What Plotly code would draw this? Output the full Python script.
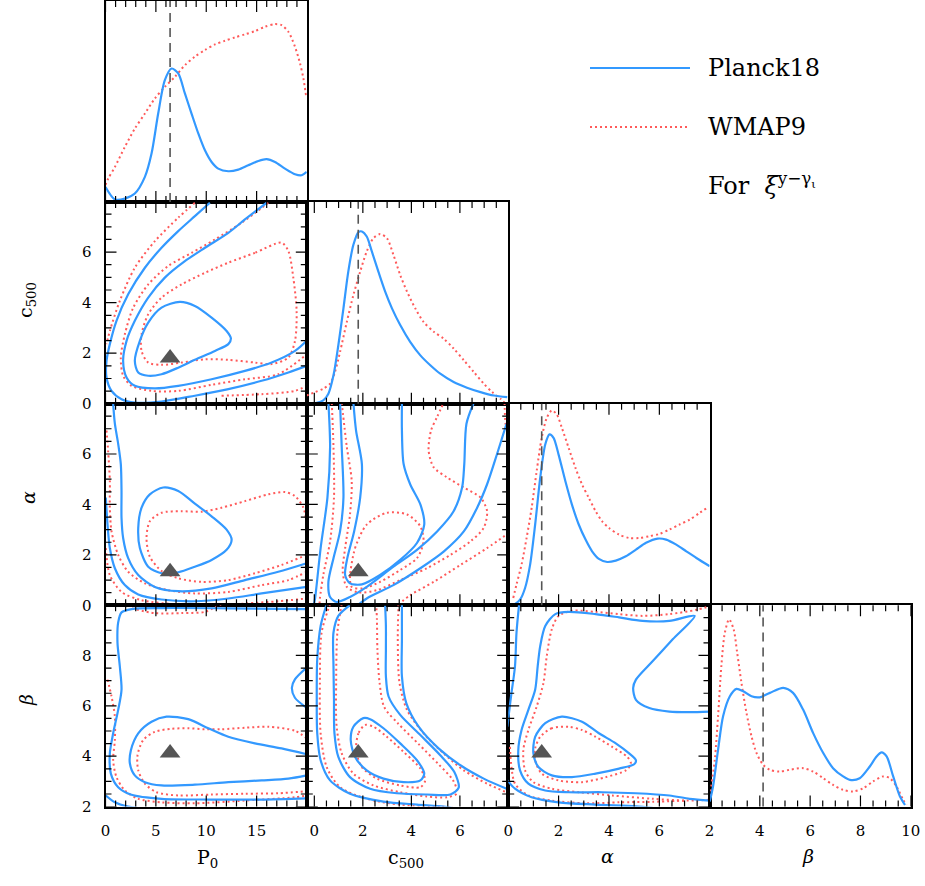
import math
import plotly.graph_objects as go

W, H = 925, 886
BLUE = "#3399ff"
RED = "#ff5a5a"
GREY = "#555555"
SERIF = "DejaVu Serif"

# ---------------------------------------------------------------- parameters
truth = [6.41, 1.81, 1.33, 4.13]          # P0, c500, alpha, beta

# ---------------------------------------------------------------- 1D marginals
p0_planck_x = [0, 0.93, 1.92, 2.91, 3.91, 4.57, 5.23, 5.89, 6.56, 7.22, 7.88, 8.54, 9.21, 9.87, 10.53, 11.19,
               12.19, 13.18, 14.17, 15.17, 15.99, 16.82, 17.81, 18.81, 19.47, 19.97]
p0_planck_y = [0.075, 0.013, 0.017, 0.042, 0.125, 0.241, 0.44, 0.606, 0.664, 0.64, 0.54, 0.44, 0.341, 0.257,
               0.199, 0.166, 0.153, 0.161, 0.183, 0.204, 0.213, 0.199, 0.166, 0.138, 0.133, 0.15]
p0_wmap_x = [0, 0.26, 0.93, 1.92, 2.91, 3.91, 4.9, 5.89, 6.89, 7.88, 8.87, 9.87, 10.86, 11.85, 12.85, 13.84,
             14.83, 15.83, 16.82, 17.48, 18.15, 18.81, 19.31, 19.64, 19.9]
p0_wmap_y = [0.085, 0.116, 0.174, 0.274, 0.365, 0.44, 0.515, 0.573, 0.623, 0.681, 0.723, 0.756, 0.784, 0.802,
             0.819, 0.834, 0.85, 0.872, 0.885, 0.88, 0.847, 0.772, 0.689, 0.615, 0.532]

c5_planck_x = [-0.32, 0.1, 0.37, 0.58, 0.79, 0.99, 1.2, 1.4, 1.61, 1.82, 1.96, 2.16, 2.37, 2.64, 2.92, 3.2, 3.54,
               3.95, 4.37, 4.78, 5.19, 5.74, 6.29, 6.85, 7.4, 7.95]
c5_planck_y = [0.003, 0.005, 0.017, 0.05, 0.141, 0.29, 0.473, 0.655, 0.788, 0.851, 0.854, 0.829, 0.755, 0.655,
               0.556, 0.473, 0.39, 0.307, 0.24, 0.191, 0.149, 0.108, 0.08, 0.058, 0.041, 0.033]
c5_wmap_x = [-0.32, 0.03, 0.37, 0.65, 0.85, 1.06, 1.34, 1.61, 1.89, 2.16, 2.44, 2.71, 2.99, 3.26, 3.54, 3.82,
             4.16, 4.5, 4.92, 5.33, 5.74, 6.16, 6.57, 6.98, 7.33, 7.67, 7.84]
c5_wmap_y = [0.041, 0.058, 0.075, 0.1, 0.158, 0.257, 0.406, 0.539, 0.655, 0.755, 0.821, 0.841, 0.821, 0.738,
             0.638, 0.556, 0.473, 0.406, 0.357, 0.323, 0.274, 0.216, 0.158, 0.1, 0.058, 0.025, 0.005]

al_planck_x = [0, 0.27, 0.47, 0.67, 0.87, 1.07, 1.27, 1.47, 1.64, 1.8, 2.0, 2.27, 2.53, 2.8, 3.07, 3.33, 3.6,
               3.93, 4.27, 4.67, 5.07, 5.47, 5.93, 6.27, 6.67, 7.07, 7.47, 8.0]
al_planck_y = [0.003, 0.007, 0.028, 0.086, 0.202, 0.401, 0.632, 0.798, 0.848, 0.831, 0.748, 0.616, 0.5, 0.401,
               0.326, 0.268, 0.23, 0.215, 0.222, 0.243, 0.276, 0.31, 0.331, 0.326, 0.301, 0.268, 0.235, 0.194]
al_wmap_x = [0.2, 0.33, 0.53, 0.73, 0.93, 1.13, 1.33, 1.53, 1.73, 1.93, 2.13, 2.4, 2.67, 2.93, 3.2, 3.47, 3.73,
             4.0, 4.4, 4.8, 5.2, 5.6, 6.0, 6.4, 6.8, 7.2, 7.6, 7.89]
al_wmap_y = [0.036, 0.103, 0.202, 0.334, 0.483, 0.666, 0.831, 0.93, 0.967, 0.947, 0.881, 0.781, 0.682, 0.6,
             0.533, 0.467, 0.417, 0.384, 0.351, 0.334, 0.334, 0.343, 0.354, 0.376, 0.401, 0.425, 0.459, 0.483]

be_planck_x = [2.01, 2.14, 2.34, 2.54, 2.81, 3.07, 3.34, 3.67, 4.0, 4.4, 4.93, 5.32, 5.72, 6.12, 6.52, 6.91, 7.31,
               7.58, 7.97, 8.37, 8.64, 8.84, 9.04, 9.3, 9.57, 9.77]
be_planck_y = [0.025, 0.1, 0.282, 0.449, 0.548, 0.585, 0.573, 0.548, 0.543, 0.565, 0.59, 0.565, 0.482, 0.365,
               0.266, 0.191, 0.15, 0.133, 0.141, 0.199, 0.249, 0.269, 0.249, 0.15, 0.05, 0.008]
be_wmap_x = [2.01, 2.21, 2.34, 2.47, 2.61, 2.78, 2.96, 3.1, 3.27, 3.47, 3.67, 3.87, 4.13, 4.4, 4.79, 5.19, 5.72,
             6.12, 6.52, 6.91, 7.31, 7.71, 8.11, 8.5, 8.9, 9.17, 9.43, 9.7, 9.83]
be_wmap_y = [0.05, 0.233, 0.449, 0.698, 0.864, 0.93, 0.88, 0.764, 0.615, 0.465, 0.349, 0.266, 0.208, 0.183,
             0.174, 0.183, 0.191, 0.174, 0.141, 0.108, 0.083, 0.075, 0.091, 0.125, 0.15, 0.141, 0.1, 0.033, 0.008]

# ---------------------------------------------------------------- 2D contours
# c500 vs P0
c5p0_planck_1 = [(2.91, 1.70), (3.41, 2.49), (4.24, 3.21), (5.56, 3.80), (7.38, 4.03), (8.87, 3.87), (10.53, 3.41),
                 (12.02, 2.88), (12.45, 2.58), (12.19, 2.36), (10.86, 2.09), (8.87, 1.74), (7.22, 1.43),
                 (5.56, 1.17), (4.24, 1.11), (3.25, 1.24), (2.91, 1.70)]
c5p0_planck_2 = [(15.99, 7.95), (13.84, 7.29), (12.19, 6.76), (9.87, 6.17), (7.88, 5.64), (5.89, 4.99), (4.24, 4.2),
                 (2.91, 3.28), (2.09, 2.49), (1.75, 1.7), (2.09, 1.04), (2.91, 0.71), (4.9, 0.61), (7.22, 0.71),
                 (10.53, 0.97), (13.84, 1.3), (16.49, 1.63), (18.81, 2.09), (19.97, 2.49)]
c5p0_planck_3 = [(10.36, 7.95), (8.87, 7.42), (7.22, 6.83), (5.56, 6.17), (3.91, 5.38), (2.25, 4.33), (1.09, 3.28),
                 (0.43, 2.36), (0.1, 1.7), (0.1, 1.04), (0.6, 0.51), (1.59, 0.18), (2.91, 0.05), (5.56, 0.09),
                 (8.87, 0.32), (12.19, 0.58), (15.5, 0.91), (18.15, 1.24), (19.97, 1.5)]
c5p0_wmap_1 = [(17.48, 6.37), (14.83, 5.97), (12.19, 5.58), (9.87, 5.18), (7.55, 4.72), (5.56, 4.2), (4.24, 3.54),
               (3.58, 2.75), (3.58, 2.09), (4.24, 1.63), (5.56, 1.54), (7.55, 1.63), (9.87, 1.76), (12.19, 1.74),
               (14.83, 1.63), (16.49, 1.57), (18.15, 1.83), (18.81, 2.49), (18.97, 3.67), (18.64, 4.99),
               (18.15, 6.04), (17.48, 6.37)]
c5p0_wmap_2 = [(16.16, 7.95), (13.51, 7.16), (10.86, 6.5), (8.54, 5.97), (6.23, 5.45), (4.24, 4.72), (2.75, 3.8),
               (1.92, 2.75), (1.52, 1.83), (1.75, 1.11), (2.58, 0.71), (4.57, 0.51), (7.22, 0.51), (10.53, 0.75),
               (13.84, 0.97), (17.15, 1.17), (19.97, 1.96)]
c5p0_wmap_3 = [(8.87, 7.95), (7.22, 7.36), (4.9, 6.43), (2.91, 5.38), (1.42, 4.07), (0.43, 2.88), (0.1, 2.36)]
c5p0_wmap_3b = [(11.52, 0.32), (15.5, 0.38), (18.81, 0.51), (19.97, 0.71)]

# alpha vs P0
alp0_planck_1 = [(5.73, 4.67), (7.22, 4.53), (8.87, 4.03), (10.53, 3.53), (12.02, 3.0), (12.52, 2.6), (12.02, 2.2),
                 (10.53, 1.8), (8.87, 1.53), (7.22, 1.31), (5.56, 1.27), (4.24, 1.53), (3.41, 2.27), (3.25, 3.07),
                 (3.58, 3.87), (4.4, 4.4), (5.73, 4.67)]
alp0_planck_2 = [(0.76, 8.0), (0.93, 7.2), (1.26, 6.4), (1.52, 5.6), (1.59, 4.53), (1.59, 3.47), (1.75, 2.67),
                 (2.25, 1.87), (3.25, 1.2), (4.9, 0.73), (7.22, 0.56), (10.53, 0.67), (13.84, 1.0), (17.15, 1.33),
                 (19.97, 1.67)]
alp0_planck_3 = [(0.03, 4.27), (0.2, 3.2), (0.43, 2.27), (0.93, 1.47), (1.92, 0.8), (3.25, 0.43), (5.56, 0.23),
                 (8.87, 0.16), (12.19, 0.27), (15.5, 0.47), (19.97, 0.73)]
alp0_wmap_1 = [(19.97, 2.0), (17.48, 1.6), (14.83, 1.27), (12.19, 1.0), (9.54, 0.93), (7.22, 1.07), (5.56, 1.36),
               (4.4, 1.93), (4.07, 2.67), (4.4, 3.33), (5.56, 3.67), (7.55, 3.73), (9.54, 3.71), (11.52, 3.87),
               (13.84, 4.13), (16.16, 4.4), (17.81, 4.49), (18.81, 4.33), (19.64, 3.87), (19.97, 3.2)]
alp0_wmap_2 = [(0.1, 6.93), (0.26, 6.13), (0.43, 4.93), (0.43, 3.87), (0.6, 2.93), (1.26, 2.0), (2.25, 1.33),
               (3.91, 0.87), (6.23, 0.6), (8.87, 0.47), (12.19, 0.53), (15.5, 0.8), (18.15, 1.0), (19.97, 1.33)]
alp0_wmap_3 = [(0.03, 2.27), (0.43, 1.2), (1.59, 0.53), (3.58, 0.2), (7.22, 0.03), (10.53, -0.03), (13.84, 0.07),
               (17.15, 0.16), (19.97, 0.27)]

# beta vs P0
bep0_planck_1 = [(19.97, 4.08), (17.48, 4.31), (14.83, 4.51), (12.19, 4.77), (10.2, 5.11), (8.21, 5.47),
                 (6.06, 5.57), (4.57, 5.37), (3.25, 4.91), (2.52, 4.24), (2.42, 3.71), (2.91, 3.24), (3.91, 2.97),
                 (5.56, 2.84), (8.87, 2.87), (12.19, 2.97), (15.5, 3.04), (18.15, 3.11), (19.97, 3.24)]
bep0_planck_2 = [(19.97, 9.84), (12.19, 9.87), (5.56, 9.88), (2.58, 9.84), (1.59, 9.71), (1.26, 9.31),
                 (1.19, 8.51), (1.42, 7.57), (1.59, 6.64), (1.26, 5.84), (0.76, 4.91), (0.43, 4.11), (0.53, 3.31),
                 (1.26, 2.77), (2.58, 2.47), (5.56, 2.31), (10.53, 2.28), (15.5, 2.28), (19.97, 2.33)]
bep0_planck_2b = [(19.97, 7.52), (18.8, 7.05), (18.5, 6.72), (18.8, 6.32), (19.97, 5.92)]
bep0_planck_3 = [(0.03, 2.44), (0.93, 2.17), (2.25, 2.0), (3.91, 1.91)]
bep0_wmap_1 = [(19.97, 4.71), (18.81, 5.01), (16.16, 5.17), (13.84, 5.13), (11.52, 5.07), (9.87, 5.07),
               (8.21, 5.11), (6.56, 5.09), (4.9, 4.97), (3.74, 4.64), (3.18, 4.04), (3.25, 3.44), (3.91, 2.91),
               (5.07, 2.57), (7.22, 2.44), (10.53, 2.48), (13.84, 2.51), (17.15, 2.53), (19.97, 2.61)]
bep0_wmap_2 = [(0.2, 7.04), (0.6, 6.37), (0.93, 5.57), (0.93, 4.64), (0.76, 3.84), (1.09, 3.17), (1.92, 2.64),
               (3.25, 2.31), (5.56, 2.17), (8.87, 2.13), (13.84, 2.24), (18.81, 2.37), (19.97, 2.44)]
bep0_wmap_2b = [(11.52, 10.04), (10.86, 9.91), (9.87, 9.73), (7.55, 9.68), (4.9, 9.68), (2.58, 9.87)]

# alpha vs c500
alc5_planck_1 = [(1.61, 8.03), (1.72, 6.93), (1.96, 5.6), (1.89, 4.27), (1.64, 2.93), (1.36, 1.87), (1.27, 1.2),
                 (1.47, 0.87), (1.96, 0.83), (2.71, 1.2), (3.54, 1.8), (4.23, 2.47), (4.53, 3.2), (4.37, 4.0),
                 (3.95, 4.8), (3.68, 5.6), (3.61, 6.93), (3.61, 8.03)]
alc5_planck_2 = [(1.06, 8.03), (1.13, 6.27), (1.2, 4.27), (1.06, 2.93), (0.79, 1.87), (0.58, 0.93), (0.65, 0.33),
                 (0.92, 0.13), (1.47, 0.33), (2.16, 0.73), (3.26, 1.53), (4.23, 2.2), (5.06, 2.93), (5.74, 3.73),
                 (6.09, 4.67), (6.18, 5.6), (6.27, 7.2), (6.57, 8.03)]
alc5_planck_3 = [(0.58, 8.03), (0.65, 6.27), (0.54, 4.27), (0.26, 2.27), (0.03, 0.27), (-0.04, -0.07)]
alc5_planck_3b = [(7.92, 7.2), (7.53, 6.0), (7.12, 4.8), (6.71, 3.87), (6.16, 2.93), (5.33, 2.13), (4.37, 1.47),
                  (3.26, 0.8), (2.16, 0.27), (1.75, -0.03)]
alc5_wmap_1 = [(1.47, 1.07), (1.68, 2.27), (2.16, 3.2), (2.99, 3.67), (3.82, 3.6), (4.37, 3.13), (4.5, 2.53),
               (4.23, 1.87), (3.54, 1.4), (2.71, 0.93), (2.02, 0.67), (1.54, 0.73), (1.47, 1.07)]
alc5_wmap_2 = [(1.13, 8.03), (1.34, 6.27), (1.54, 4.93), (1.47, 3.6), (1.27, 2.27), (1.17, 1.33), (1.34, 0.73),
               (1.82, 0.51), (2.58, 0.6), (3.54, 1.0), (4.64, 1.47), (5.61, 2.0), (6.43, 2.53), (6.98, 3.07),
               (7.12, 3.73), (6.85, 4.27), (6.16, 4.67), (5.47, 5.07), (4.92, 5.47), (4.71, 6.13), (4.81, 6.93),
               (5.06, 7.47), (5.33, 8.03)]
alc5_wmap_3 = [(0.72, 8.03), (0.79, 6.27), (0.81, 4.27), (0.65, 2.53), (0.37, 1.2), (0.23, 0.27), (0.21, -0.07)]
alc5_wmap_3b = [(7.84, 8.03), (7.88, 7.2), (8.02, 6.4)]
alc5_wmap_3c = [(8.02, 2.87), (7.12, 2.27), (6.02, 1.6), (4.92, 0.93), (3.95, 0.4), (3.4, -0.03)]

# beta vs c500
bec5_planck_1 = [(2.02, 5.51), (1.61, 5.17), (1.5, 4.64), (1.68, 3.97), (2.16, 3.44), (2.85, 3.11), (3.68, 2.97),
                 (4.37, 3.04), (4.53, 3.31), (4.23, 3.84), (3.54, 4.51), (2.85, 5.11), (2.3, 5.47), (2.02, 5.51)]
bec5_planck_2 = [(1.47, 10.0), (0.99, 9.57), (0.79, 8.91), (0.79, 7.57), (0.81, 6.24), (0.83, 4.91), (0.99, 3.97),
                 (1.47, 3.17), (2.3, 2.71), (3.4, 2.53), (4.64, 2.48), (5.61, 2.48), (5.95, 2.75), (5.77, 3.37),
                 (5.19, 4.04), (4.37, 4.84), (3.54, 5.64), (3.06, 6.37), (2.95, 7.17), (2.95, 8.24), (2.95, 9.17),
                 (2.92, 9.97)]
bec5_planck_3 = [(0.51, 10.04), (0.26, 9.17), (0.12, 7.84), (0.1, 6.24), (0.12, 4.91), (0.26, 3.84), (0.65, 3.04),
                 (1.47, 2.51), (2.85, 2.2), (4.23, 2.08), (5.33, 2.0), (5.88, 1.91)]
bec5_planck_3b = [(3.61, 10.04), (3.61, 8.64), (3.61, 7.17), (3.79, 6.11), (4.3, 5.17), (5.12, 4.31), (6.02, 3.64),
                  (6.98, 3.11), (8.02, 2.67)]
bec5_wmap_1 = [(2.09, 5.24), (1.82, 4.91), (1.72, 4.24), (1.96, 3.57), (2.58, 3.11), (3.54, 2.84), (4.37, 2.77),
               (4.57, 3.04), (4.37, 3.51), (3.68, 4.17), (2.99, 4.77), (2.44, 5.17), (2.09, 5.24)]
bec5_wmap_2 = [(1.13, 10.04), (0.95, 8.91), (0.9, 6.91), (0.92, 5.17), (1.13, 4.11), (1.61, 3.31), (2.44, 2.84),
               (3.54, 2.57), (4.64, 2.4), (5.47, 2.37), (5.88, 2.53), (5.72, 3.04), (5.12, 3.68), (4.3, 4.48),
               (3.47, 5.28), (2.88, 5.95), (2.69, 6.91), (2.6, 8.24), (2.58, 9.44), (2.55, 10.04)]
bec5_wmap_3 = [(0.65, 10.04), (0.3, 8.91), (0.23, 6.91), (0.26, 4.91), (0.51, 3.57), (1.06, 2.77), (2.16, 2.31),
               (3.54, 2.08), (5.19, 2.0), (6.02, 1.91)]
bec5_wmap_3b = [(3.47, 10.04), (3.44, 8.64), (3.51, 6.91), (3.82, 5.84), (4.5, 4.91), (5.33, 4.11), (6.16, 3.44),
                (7.12, 2.91), (8.02, 2.53)]

# beta vs alpha
beal_planck_1 = [(2.13, 5.57), (1.47, 5.31), (1.07, 4.77), (1.0, 4.11), (1.2, 3.57), (1.73, 3.24), (2.53, 3.17),
                 (3.47, 3.31), (4.4, 3.51), (5.0, 3.68), (5.07, 3.84), (4.8, 4.11), (4.27, 4.51), (3.6, 4.91),
                 (2.93, 5.37), (2.13, 5.57)]
beal_planck_2 = [(8.0, 5.77), (7.2, 5.75), (6.4, 5.77), (5.6, 5.91), (5.07, 6.24), (4.96, 6.71), (5.07, 7.04),
                 (5.73, 7.77), (6.53, 8.64), (7.4, 9.57), (6.4, 9.37), (5.33, 9.37), (4.4, 9.51), (3.47, 9.64),
                 (2.4, 9.73), (1.87, 9.64), (1.47, 9.17), (1.27, 8.37), (1.17, 7.57), (1.07, 6.64), (0.8, 5.84),
                 (0.53, 5.04), (0.4, 4.24), (0.47, 3.44), (0.8, 2.91), (1.47, 2.64), (2.4, 2.57), (3.73, 2.57),
                 (5.07, 2.53), (6.4, 2.44), (7.2, 2.31), (8.0, 2.24)]
beal_planck_3 = [(0.43, 10.0), (0.33, 8.91), (0.27, 7.57), (0.13, 6.51), (0.03, 5.71), (-0.03, 5.17)]
beal_planck_3b = [(-0.03, 3.04), (0.27, 2.71), (0.93, 2.37), (2.0, 2.17), (3.47, 2.08), (5.07, 2.01), (5.73, 1.95)]
beal_wmap_1 = [(2.4, 5.17), (1.73, 5.11), (1.27, 4.77), (1.07, 4.31), (1.07, 3.84), (1.33, 3.31), (2.0, 3.04),
               (2.93, 2.97), (3.87, 3.17), (4.67, 3.44), (4.87, 3.71), (4.73, 3.97), (4.13, 4.37), (3.47, 4.77),
               (2.93, 5.04), (2.4, 5.17)]
beal_wmap_2 = [(8.07, 9.97), (7.47, 9.81), (6.4, 9.64), (5.33, 9.57), (4.4, 9.64), (3.47, 9.73), (2.53, 9.77),
               (2.0, 9.57), (1.73, 9.04), (1.53, 7.97), (1.4, 6.91), (1.13, 5.97), (0.8, 5.04), (0.6, 4.24),
               (0.67, 3.44), (1.0, 2.97), (1.73, 2.71), (2.8, 2.57), (4.13, 2.44), (5.73, 2.31), (7.07, 2.24),
               (8.0, 2.27)]
beal_wmap_3 = [(0.07, 4.37), (0.13, 3.57), (0.27, 2.91), (0.8, 2.44), (1.73, 2.24), (3.07, 2.13), (4.4, 2.17),
               (5.73, 2.19), (7.07, 2.24)]

# ---------------------------------------------------------------- layout geometry (pixels)
col_px = [(105.5, 306.8), (306.8, 508.2), (508.2, 709.5), (709.5, 910.8)]
row_px = [(1.0, 202.0), (202.0, 403.8), (403.8, 605.3), (605.3, 806.6)]
x_ranges = [[0, 19.98], [-0.31, 7.99], [0, 7.99], [2, 10]]
y_ranges = [[0, 1], [0, 7.98], [0, 7.99], [2, 9.99]]
tick_base = [0, 0, 0, 2]
major = [5, 2, 2, 2]
minor = [1, 0.5, 0.5, 0.5]
MAJOR_LEN, MINOR_LEN = 11, 6

fig = go.Figure()
layout = dict(width=W, height=H, margin=dict(l=0, r=0, t=0, b=0, pad=0), paper_bgcolor="white",
              plot_bgcolor="white", showlegend=False, shapes=[], annotations=[])

tickfont = dict(family=SERIF, size=15, color="black")


def frame_axis(rng, dom, base, dtick, labels):
    return dict(domain=dom, range=rng, showgrid=False, zeroline=False, showline=True, linecolor="black",
                linewidth=2, mirror=True, ticks="", tick0=base, dtick=dtick, showticklabels=labels,
                tickfont=tickfont, ticklabelstandoff=9, automargin=False)


def tick_values(lo, hi, step, base):
    vals = []
    n = math.ceil((lo - base) / step - 1e-9)
    while base + n * step <= hi + 1e-9:
        vals.append(round(base + n * step, 6))
        n += 1
    return vals


panel_id = {}
k = 0
for i in range(4):
    for j in range(i + 1):
        k += 1
        panel_id[(i, j)] = k
        sfx = "" if k == 1 else str(k)
        xd = [col_px[j][0] / W, col_px[j][1] / W]
        yd = [1 - row_px[i][1] / H, 1 - row_px[i][0] / H]
        xa = frame_axis(x_ranges[j], xd, tick_base[j], major[j], i == 3)
        if i == j:
            ya = frame_axis([0, 1], yd, 0, 0.5, False)
        else:
            ya = frame_axis(y_ranges[i], yd, tick_base[i], major[i], j == 0)
        xa["anchor"] = "y" + sfx
        ya["anchor"] = "x" + sfx
        layout["xaxis" + sfx] = xa
        layout["yaxis" + sfx] = ya


def sfx_of(i, j):
    kk = panel_id[(i, j)]
    return "" if kk == 1 else str(kk)


def add_line(i, j, xs, ys, color, dotted=False):
    s = sfx_of(i, j)
    fig.add_trace(go.Scatter(
        x=xs, y=ys, mode="lines", xaxis="x" + s, yaxis="y" + s, hoverinfo="skip",
        line=dict(color=color, width=2 if dotted else 2.2, dash="2px,3px" if dotted else "solid",
                  shape="spline", smoothing=0.8)))


def add_path(i, j, pts, color, dotted=False):
    add_line(i, j, [p[0] for p in pts], [p[1] for p in pts], color, dotted)


# diagonal marginals
add_line(0, 0, p0_wmap_x, p0_wmap_y, RED, True)
add_line(0, 0, p0_planck_x, p0_planck_y, BLUE)
add_line(1, 1, c5_wmap_x, c5_wmap_y, RED, True)
add_line(1, 1, c5_planck_x, c5_planck_y, BLUE)
add_line(2, 2, al_wmap_x, al_wmap_y, RED, True)
add_line(2, 2, al_planck_x, al_planck_y, BLUE)
add_line(3, 3, be_wmap_x, be_wmap_y, RED, True)
add_line(3, 3, be_planck_x, be_planck_y, BLUE)

# off-diagonal contours
wmap_paths = {
    (1, 0): [c5p0_wmap_1, c5p0_wmap_2, c5p0_wmap_3, c5p0_wmap_3b],
    (2, 0): [alp0_wmap_1, alp0_wmap_2, alp0_wmap_3],
    (3, 0): [bep0_wmap_1, bep0_wmap_2, bep0_wmap_2b],
    (2, 1): [alc5_wmap_1, alc5_wmap_2, alc5_wmap_3, alc5_wmap_3b, alc5_wmap_3c],
    (3, 1): [bec5_wmap_1, bec5_wmap_2, bec5_wmap_3, bec5_wmap_3b],
    (3, 2): [beal_wmap_1, beal_wmap_2, beal_wmap_3],
}
planck_paths = {
    (1, 0): [c5p0_planck_1, c5p0_planck_2, c5p0_planck_3],
    (2, 0): [alp0_planck_1, alp0_planck_2, alp0_planck_3],
    (3, 0): [bep0_planck_1, bep0_planck_2, bep0_planck_2b, bep0_planck_3],
    (2, 1): [alc5_planck_1, alc5_planck_2, alc5_planck_3, alc5_planck_3b],
    (3, 1): [bec5_planck_1, bec5_planck_2, bec5_planck_3, bec5_planck_3b],
    (3, 2): [beal_planck_1, beal_planck_2, beal_planck_3, beal_planck_3b],
}
for key, paths in wmap_paths.items():
    for pts in paths:
        add_path(key[0], key[1], pts, RED, True)
for key, paths in planck_paths.items():
    for pts in paths:
        add_path(key[0], key[1], pts, BLUE)

# fiducial markers
for (i, j), kk in panel_id.items():
    s = sfx_of(i, j)
    if i == j:
        layout["shapes"].append(dict(type="line", xref="x" + s, yref="y" + s + " domain",
                                     x0=truth[j], x1=truth[j], y0=0, y1=1,
                                     line=dict(color=GREY, width=1.6, dash="9px,6px")))
    else:
        fig.add_trace(go.Scatter(x=[truth[j]], y=[truth[i]], mode="markers", xaxis="x" + s,
                                 yaxis="y" + s, hoverinfo="skip",
                                 marker=dict(symbol="triangle-up", size=18, color=GREY)))


def fmt(v):
    return f"{v:.5f}"


# inward tick marks on every frame side: x ticks use data x / domain y, y ticks the reverse
for (i, j), kk in panel_id.items():
    s = sfx_of(i, j)
    wpx = col_px[j][1] - col_px[j][0]
    hpx = row_px[i][1] - row_px[i][0]
    xr = x_ranges[j]
    xmaj = tick_values(xr[0], xr[1], major[j], tick_base[j])
    xmin = [v for v in tick_values(xr[0], xr[1], minor[j], tick_base[j]) if v not in xmaj]
    parts = []
    for vals, length in ((xmaj, MAJOR_LEN), (xmin, MINOR_LEN)):
        f = length / hpx
        for v in vals:
            parts.append(f"M{fmt(v)},0L{fmt(v)},{fmt(f)}M{fmt(v)},1L{fmt(v)},{fmt(1 - f)}")
    layout["shapes"].append(dict(type="path", xref="x" + s, yref="y" + s + " domain", path="".join(parts),
                                 line=dict(color="black", width=1.2), layer="above"))
    if i != j:
        yr = y_ranges[i]
        ymaj = tick_values(yr[0], yr[1], major[i], tick_base[i])
        ymin = [v for v in tick_values(yr[0], yr[1], minor[i], tick_base[i]) if v not in ymaj]
        parts = []
        for vals, length in ((ymaj, MAJOR_LEN), (ymin, MINOR_LEN)):
            f = length / wpx
            for v in vals:
                parts.append(f"M0,{fmt(v)}L{fmt(f)},{fmt(v)}M1,{fmt(v)}L{fmt(1 - f)},{fmt(v)}")
        layout["shapes"].append(dict(type="path", xref="x" + s + " domain", yref="y" + s, path="".join(parts),
                                     line=dict(color="black", width=1.2), layer="above"))

# axis titles
titles_bottom = [("P<sub>0</sub>", 207, 858), ("c<sub>500</sub>", 406, 858), ("<i>α</i>", 607, 856),
                 ("<i>β</i>", 808, 856)]
for txt, px, py in titles_bottom:
    layout["annotations"].append(dict(text=txt, x=px / W, y=1 - py / H, xref="paper", yref="paper",
                                      xanchor="center", yanchor="middle", showarrow=False,
                                      font=dict(family=SERIF, size=19, color="black")))
titles_left = [("c<sub>500</sub>", 26, 300), ("<i>α</i>", 28, 498), ("<i>β</i>", 26, 700)]
for txt, px, py in titles_left:
    layout["annotations"].append(dict(text=txt, x=px / W, y=1 - py / H, xref="paper", yref="paper",
                                      xanchor="center", yanchor="middle", showarrow=False, textangle=-90,
                                      font=dict(family=SERIF, size=19, color="black")))

# legend
legend_rows = [("Planck18", BLUE, "solid", 68), ("WMAP9", RED, "2px,3px", 127)]
for name, col, dash, py in legend_rows:
    layout["shapes"].append(dict(type="line", xref="paper", yref="paper", x0=590 / W, x1=690 / W,
                                 y0=1 - py / H, y1=1 - py / H, line=dict(color=col, width=2, dash=dash)))
    layout["annotations"].append(dict(text=name, x=706 / W, y=1 - py / H, xref="paper", yref="paper",
                                      xanchor="left", yanchor="middle", showarrow=False,
                                      font=dict(family=SERIF, size=24, color="black")))
layout["annotations"].append(dict(text="For  <i>ξ</i><sup>y−γ<sub>ι</sub></sup>", x=706 / W, y=1 - 184 / H,
                                  xref="paper", yref="paper", xanchor="left", yanchor="middle",
                                  showarrow=False, font=dict(family=SERIF, size=24, color="black")))

fig.update_layout(**layout)
fig.write_html("out.html")
